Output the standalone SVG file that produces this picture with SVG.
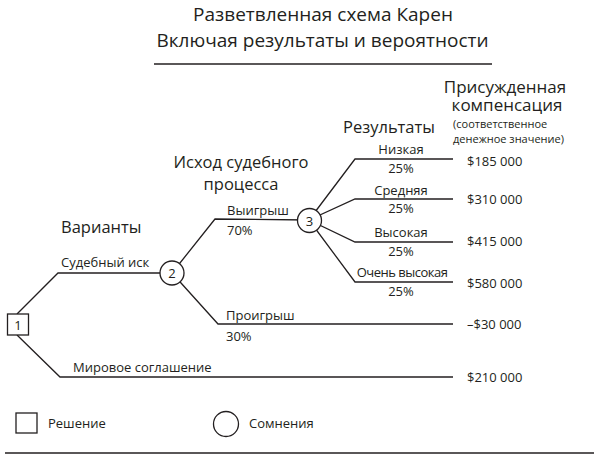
<svg xmlns="http://www.w3.org/2000/svg" width="594" height="460" viewBox="0 0 594 460">
<style>
text{font-family:"Open Sans","Noto Sans","DejaVu Sans",sans-serif;fill:#231f20}
.t{font-size:19px}
.h{font-size:16.5px}
.l{font-size:13px}
.s{font-size:11px}
.c{text-anchor:middle}
.ln{stroke:#231f20;stroke-width:1.3;fill:none}
.nd{stroke:#231f20;stroke-width:1.3;fill:#fff}
</style>
<rect width="594" height="460" fill="#fff"/>
<g id="title">
<text class="t c" x="323" y="21">Разветвленная схема Карен</text>
<text class="t c" x="322.5" y="47">Включая результаты и вероятности</text>
<line class="ln" x1="154" y1="64" x2="492" y2="64"/>
</g>
<g id="headers">
<text class="c" style="font-size:17px" x="505" y="93">Присужденная</text>
<text class="c" style="font-size:17px" x="507" y="111">компенсация</text>
<text class="s" x="453" y="128">(соответственное</text>
<text class="s" x="453" y="143">денежное значение)</text>
<text class="h" x="343" y="133">Результаты</text>
<text class="h c" x="241" y="168">Исход судебного</text>
<text class="h c" x="241" y="190">процесса</text>
<text class="h" x="61" y="233">Варианты</text>
</g>
<g id="connectors">
<polyline class="ln" points="17,314 58,273 172,273"/>
<polyline class="ln" points="17,335 60,377 453,377"/>
<polyline class="ln" points="172,273 215,219 309,220"/>
<polyline class="ln" points="172,273 218,324 453,324"/>
<polyline class="ln" points="309,220 355,159 453,159"/>
<polyline class="ln" points="309,220 355,199 453,199"/>
<polyline class="ln" points="309,220 355,242 453,242"/>
<polyline class="ln" points="309,220 355,282 453,282"/>
</g>
<g id="labels">
<text class="l" x="61" y="267">Судебный иск</text>
<text class="l" x="73" y="372">Мировое соглашение</text>
<text class="l" x="227" y="215">Выигрыш</text>
<text class="l" x="227" y="235">70%</text>
<text class="l" x="226" y="320">Проигрыш</text>
<text class="l" x="226" y="341">30%</text>
<text class="l c" x="401" y="154">Низкая</text>
<text class="l c" x="401" y="173">25%</text>
<text class="l c" x="401" y="195">Средняя</text>
<text class="l c" x="401" y="213">25%</text>
<text class="l c" x="401" y="237">Высокая</text>
<text class="l c" x="401" y="256">25%</text>
<text class="l c" x="402" y="277" letter-spacing="-0.5">Очень высокая</text>
<text class="l c" x="401" y="296">25%</text>
</g>
<g id="values">
<text class="l" x="467" y="166">$185 000</text>
<text class="l" x="467" y="204">$310 000</text>
<text class="l" x="467" y="246">$415 000</text>
<text class="l" x="467" y="288">$580 000</text>
<text class="l" x="467" y="329">–$30 000</text>
<text class="l" x="467" y="382">$210 000</text>
</g>
<g id="node1">
<rect class="nd" x="7.5" y="314" width="21" height="21"/>
<text class="l c" x="18" y="329.5">1</text>
</g>
<g id="node2">
<circle class="nd" cx="172" cy="273" r="12"/>
<text class="l c" x="172" y="278">2</text>
</g>
<g id="node3">
<circle class="nd" cx="309.5" cy="220.5" r="12"/>
<text class="l c" x="309.5" y="225.5">3</text>
</g>
<g id="legend">
<rect class="nd" x="16" y="413" width="21" height="20"/>
<text class="l" x="48" y="428">Решение</text>
<circle class="nd" cx="226" cy="424" r="12.5"/>
<text class="l" x="249" y="428">Сомнения</text>
<line class="ln" x1="5" y1="453" x2="594" y2="453"/>
</g>
</svg>
